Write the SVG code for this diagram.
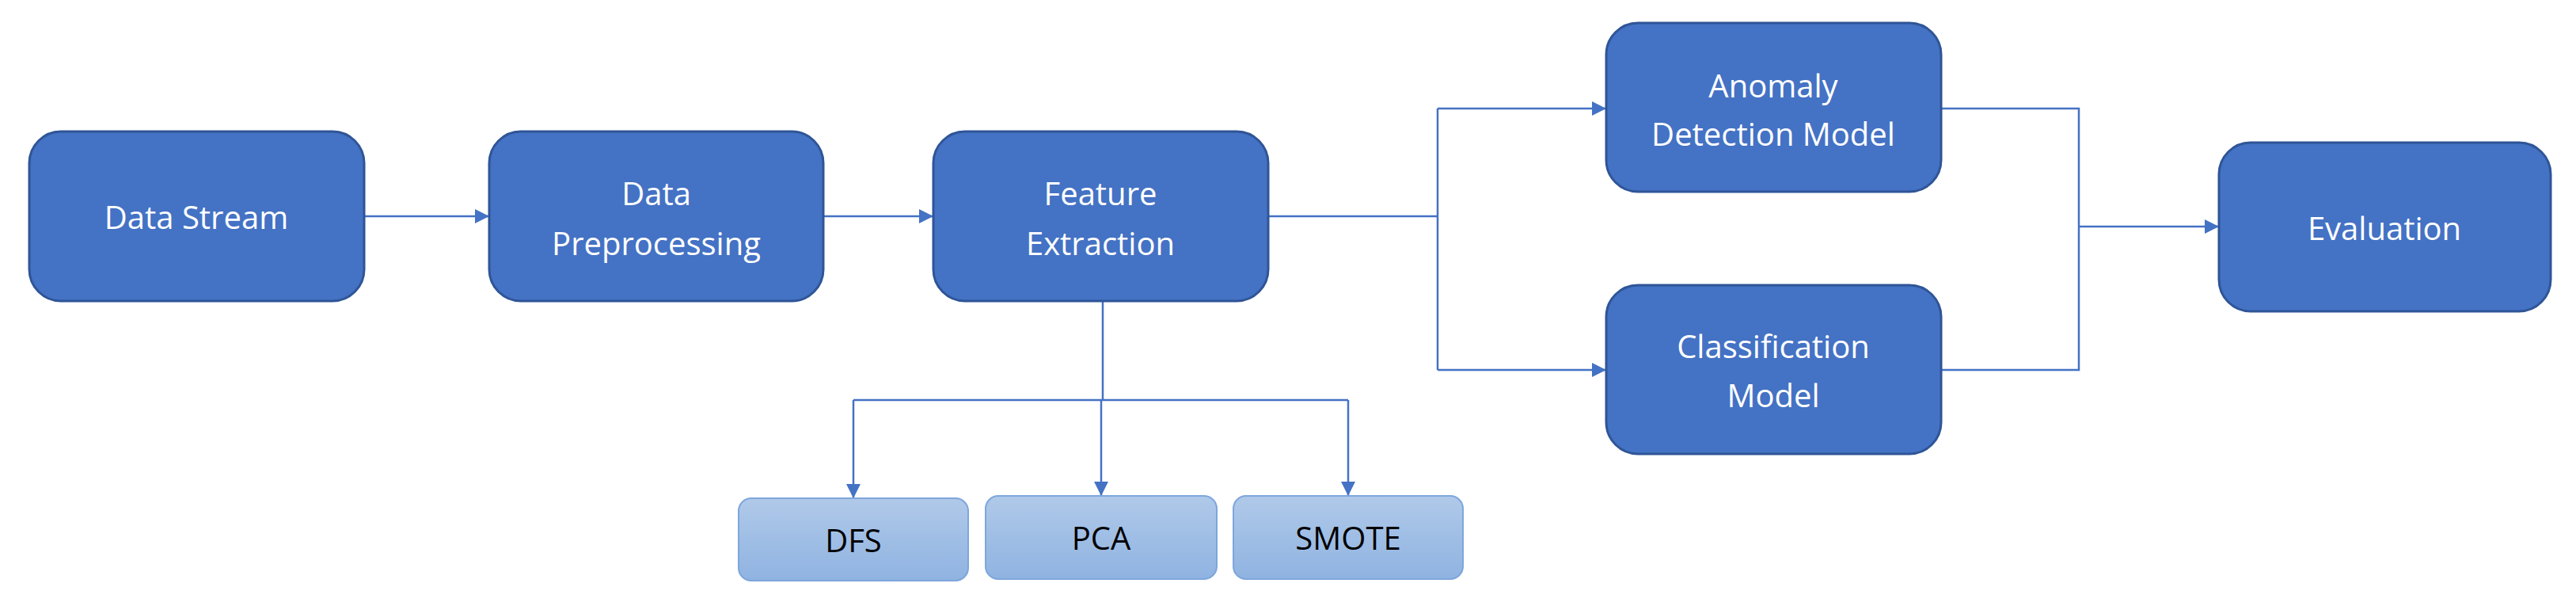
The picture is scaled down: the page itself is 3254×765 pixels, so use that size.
<svg xmlns="http://www.w3.org/2000/svg" width="3254" height="765" viewBox="0 0 3254 765">
<style>
.n{fill:#4472c4;stroke:#2f5597;stroke-width:3}
.s{fill:url(#g);stroke:#7ea6dc;stroke-width:2}
.t{font-family:"Open Sans",sans-serif;font-size:40px;fill:#fff;text-anchor:middle;dominant-baseline:central}
.k{fill:#000}
.c{fill:none;stroke:#4472c4;stroke-width:2.5}
</style>
<defs>
<linearGradient id="g" x1="0" y1="0" x2="0" y2="1"><stop offset="0" stop-color="#b0c9e9"/><stop offset="1" stop-color="#8fb3e1"/></linearGradient>
<marker id="a" markerWidth="8" markerHeight="8" refX="8" refY="4" orient="auto" markerUnits="userSpaceOnUse" viewBox="0 0 8 8"><path d="M0,0L8,4L0,8z" fill="#4472c4"/></marker>
<marker id="b" markerWidth="18" markerHeight="18" refX="18" refY="9" orient="auto" markerUnits="userSpaceOnUse" viewBox="0 0 18 18"><path d="M0,0L18,9L0,18z" fill="#4472c4"/></marker>
</defs>
<g id="connectors">
<path class="c" d="M460,273H618" marker-end="url(#b)"/>
<path class="c" d="M1040,273H1179" marker-end="url(#b)"/>
<path class="c" d="M1602,273H1816M1816,137V467M1816,137H2029" marker-end="url(#b)"/>
<path class="c" d="M1816,467H2029" marker-end="url(#b)"/>
<path class="c" d="M1393,380V505M1078,505H1703"/>
<path class="c" d="M1078,505V629" marker-end="url(#b)"/>
<path class="c" d="M1391,505V626" marker-end="url(#b)"/>
<path class="c" d="M1703,505V626" marker-end="url(#b)"/>
<path class="c" d="M2452,137H2626V467H2452M2626,286H2803" marker-end="url(#b)"/>
</g>
<g id="data-stream"><rect class="n" x="37" y="166" width="423" height="214" rx="40"/><text class="t" x="248" y="273">Data Stream</text></g>
<g id="data-preprocessing"><rect class="n" x="618" y="166" width="422" height="214" rx="40"/><text class="t" x="829" y="243">Data</text><text class="t" x="829" y="306">Preprocessing</text></g>
<g id="feature-extraction"><rect class="n" x="1179" y="166" width="423" height="214" rx="40"/><text class="t" x="1390" y="243">Feature</text><text class="t" x="1390" y="306">Extraction</text></g>
<g id="anomaly"><rect class="n" x="2029" y="29" width="423" height="213" rx="40"/><text class="t" x="2240" y="107">Anomaly</text><text class="t" x="2240" y="168">Detection Model</text></g>
<g id="classification"><rect class="n" x="2029" y="360" width="423" height="213" rx="40"/><text class="t" x="2240" y="436">Classification</text><text class="t" x="2240" y="498">Model</text></g>
<g id="evaluation"><rect class="n" x="2803" y="180" width="419" height="213" rx="40"/><text class="t" x="3012" y="287">Evaluation</text></g>
<g id="dfs"><rect class="s" x="933" y="629" width="290" height="104" rx="16"/><text class="t k" x="1078" y="681">DFS</text></g>
<g id="pca"><rect class="s" x="1245" y="626" width="292" height="105" rx="16"/><text class="t k" x="1391" y="678">PCA</text></g>
<g id="smote"><rect class="s" x="1558" y="626" width="290" height="105" rx="16"/><text class="t k" x="1703" y="678">SMOTE</text></g>
</svg>
